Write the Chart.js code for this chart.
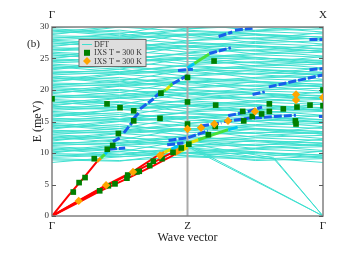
<!DOCTYPE html>
<html>
<head>
<meta charset="utf-8">
<script src="https://cdn.jsdelivr.net/npm/chart.js@4.4.1/dist/chart.umd.min.js"></script>
<style>html,body{margin:0;padding:0;background:#fff}canvas{display:block}</style>
</head>
<body>
<canvas id="c" width="363" height="256"></canvas>
<script>
const pathTicks = [0, 1, 2];
const pathLabels = ['Γ', 'Z', 'Γ'];
const topTicks = [0, 2];
const topLabels = ['Γ', 'X'];

// DFT bands, sampled at Γ, half way, Z, half way, Γ
const dftX = [0, 0.5, 1, 1.5, 2];
const dftBands = [
    [8.5, 9.4, 10.1, 9.3, 8.5], [8.9, 8.7, 10.1, 9.9, 9.2], [9.3, 9.7, 10.0, 8.8, 9.1],
    [9.7, 9.4, 9.9, 10.6, 10.2], [10.0, 11.2, 10.5, 10.1, 9.6], [10.4, 11.3, 12.0, 11.2, 10.4],
    [10.8, 10.2, 12.0, 11.8, 11.1], [11.2, 11.6, 11.9, 10.7, 11.0], [11.5, 11.2, 11.7, 12.4, 12.0],
    [11.9, 13.1, 12.4, 12.0, 11.5], [12.3, 13.2, 13.9, 13.1, 12.3], [12.7, 12.1, 13.9, 13.7, 13.0],
    [13.0, 13.4, 13.7, 12.5, 12.8], [13.4, 13.1, 13.6, 14.3, 13.9], [13.8, 15.0, 14.3, 13.9, 13.4],
    [14.2, 15.1, 15.8, 15.0, 14.2], [14.5, 13.9, 15.7, 15.5, 14.8], [14.9, 15.3, 15.6, 14.4, 14.7],
    [15.3, 15.0, 15.5, 16.2, 15.8], [15.7, 16.9, 16.2, 15.8, 15.3], [16.0, 16.9, 17.6, 16.8, 16.0],
    [16.4, 15.8, 17.6, 17.4, 16.7], [16.8, 17.2, 17.5, 16.3, 16.6], [17.2, 16.9, 17.4, 18.1, 17.7],
    [17.5, 18.7, 18.0, 17.6, 17.1], [17.9, 18.8, 19.5, 18.7, 17.9], [18.3, 17.7, 19.5, 19.3, 18.6],
    [18.7, 19.1, 19.4, 18.2, 18.5], [19.0, 18.7, 19.2, 19.9, 19.5], [19.4, 20.6, 19.9, 19.5, 19.0],
    [19.8, 20.7, 21.4, 20.6, 19.8], [20.2, 19.6, 21.4, 21.2, 20.5], [20.5, 20.9, 21.2, 20.0, 20.3],
    [20.9, 20.6, 21.1, 21.8, 21.4], [21.3, 22.5, 21.8, 21.4, 20.9], [21.7, 22.6, 23.3, 22.5, 21.7],
    [22.0, 21.4, 23.2, 23.0, 22.3], [22.4, 22.8, 23.1, 21.9, 22.2], [22.8, 22.5, 23.0, 23.7, 23.3],
    [23.2, 24.4, 23.7, 23.3, 22.8], [23.5, 24.4, 25.1, 24.3, 23.5], [23.9, 23.3, 25.1, 24.9, 24.2],
    [24.3, 24.7, 25.0, 23.8, 24.1], [24.7, 24.4, 24.9, 25.6, 25.2], [25.0, 26.2, 25.5, 25.1, 24.6],
    [25.4, 26.3, 27.0, 26.2, 25.4], [25.8, 25.2, 27.0, 26.8, 26.1], [26.2, 26.6, 26.9, 25.7, 26.0],
    [26.5, 26.2, 26.7, 27.4, 27.0], [26.9, 28.1, 27.4, 27.0, 26.5], [27.3, 28.2, 28.9, 28.1, 27.3],
    [27.7, 27.1, 28.9, 28.7, 28.0], [28.0, 28.4, 28.7, 27.5, 27.8], [28.4, 28.1, 28.6, 29.3, 28.9],
    [28.8, 30.0, 29.3, 28.9, 28.4], [29.2, 30.1, 30.8, 30.0, 29.2], [29.5, 28.9, 30.7, 30.5, 29.8],
    [29.9, 30.3, 30.6, 29.4, 29.7], [30.3, 30.0, 30.5, 31.2, 30.8],
    [9.1, 8.8, 9.4, 9.0, 9.5], [9.5, 10.2, 9.6, 10.1, 9.7], [9.9, 9.7, 10.8, 10.2, 9.3],
    [10.2, 10.7, 9.5, 9.3, 10.3], [10.6, 9.8, 10.9, 11.4, 11.2], [11.0, 10.5, 10.1, 10.8, 11.4],
    [11.4, 12.1, 11.0, 12.0, 11.6], [11.7, 11.5, 12.6, 12.0, 11.1], [12.1, 12.6, 11.4, 11.2, 12.2],
    [12.5, 11.7, 12.8, 13.3, 13.1], [12.9, 12.4, 12.0, 12.7, 13.3], [13.2, 13.9, 12.8, 13.8, 13.4],
    [13.6, 13.4, 14.5, 13.9, 13.0], [14.0, 14.5, 13.3, 13.1, 14.1], [14.4, 13.6, 14.7, 15.2, 15.0],
    [14.7, 14.2, 13.8, 14.5, 15.1], [15.1, 15.8, 14.7, 15.7, 15.3], [15.5, 15.3, 16.4, 15.8, 14.9],
    [15.9, 16.4, 15.2, 15.0, 16.0], [16.2, 15.4, 16.5, 17.0, 16.8], [16.6, 16.1, 15.7, 16.4, 17.0],
    [17.0, 17.7, 16.6, 17.6, 17.2], [17.4, 17.2, 18.3, 17.7, 16.8], [17.7, 18.2, 17.0, 16.8, 17.8],
    [18.1, 17.3, 18.4, 18.9, 18.7], [18.5, 18.0, 17.6, 18.3, 18.9], [18.9, 19.6, 18.5, 19.5, 19.1],
    [19.2, 19.0, 20.1, 19.5, 18.6], [19.6, 20.1, 18.9, 18.7, 19.7], [20.0, 19.2, 20.3, 20.8, 20.6],
    [20.4, 19.9, 19.5, 20.2, 20.8], [20.7, 21.4, 20.3, 21.3, 20.9], [21.1, 20.9, 22.0, 21.4, 20.5],
    [21.5, 22.0, 20.8, 20.6, 21.6], [21.9, 21.1, 22.2, 22.7, 22.5], [22.2, 21.7, 21.3, 22.0, 22.6],
    [22.6, 23.3, 22.2, 23.2, 22.8], [23.0, 22.8, 23.9, 23.3, 22.4], [23.4, 23.9, 22.7, 22.5, 23.5],
    [23.7, 22.9, 24.0, 24.5, 24.3], [24.1, 23.6, 23.2, 23.9, 24.5], [24.5, 25.2, 24.1, 25.1, 24.7],
    [24.9, 24.7, 25.8, 25.2, 24.3], [25.2, 25.7, 24.5, 24.3, 25.3], [25.6, 24.8, 25.9, 26.4, 26.2],
    [26.0, 25.5, 25.1, 25.8, 26.4], [26.4, 27.1, 26.0, 27.0, 26.6], [26.7, 26.5, 27.6, 27.0, 26.1],
    [27.1, 27.6, 26.4, 26.2, 27.2], [27.5, 26.7, 27.8, 28.3, 28.1], [27.9, 27.4, 27.0, 27.7, 28.3],
    [28.2, 28.9, 27.8, 28.8, 28.4], [28.6, 28.4, 29.5, 28.9, 28.0], [29.0, 29.5, 28.3, 28.1, 29.1],
    [29.4, 28.6, 29.7, 30.2, 30.0], [29.7, 29.2, 28.8, 29.5, 30.1], [30.1, 30.8, 29.7, 30.7, 30.3]
];
// acoustic DFT branches fanning from Z down to Γ
const fanX = [1, 1.64, 2];
const fanBands = [[11.3, 4.1, 0], [11.0, 4.0, 0], [10.8, 9.0, 0], [11.5, 9.2, 0]];

const ixsGreenX = [0, 0.157, 0.2, 0.244, 0.312, 0.352, 0.406, 0.408, 0.448, 0.416, 0.465, 0.502,
    0.49, 0.553, 0.559, 0.603, 0.603, 0.627, 0.644, 0.721, 0.748, 0.797, 0.804, 0.812, 0.893,
    0.954, 1.0, 1.0, 1.0, 1.01, 1.196, 1.208, 1.205, 1.154, 1.407, 1.415, 1.478, 1.547, 1.604,
    1.604, 1.707, 1.796, 1.801, 1.808, 1.904, 2.0, 2.0];
const ixsGreenY = [18.6, 3.8, 5.3, 6.1, 9.1, 4.0, 17.8, 10.6, 11.2, 4.8, 5.1, 17.2,
    13.1, 6.0, 6.5, 16.7, 15.1, 7.0, 7.1, 8.0, 8.7, 15.5, 19.5, 9.1, 10.1,
    10.8, 22.0, 18.1, 14.6, 11.4, 24.6, 17.6, 14.2, 12.9, 16.6, 15.1, 15.8, 16.2, 17.8,
    16.6, 17.0, 15.1, 14.6, 17.3, 17.6, 20.0, 17.5];
const ixsOrangeX = [0.197, 0.399, 0.598, 0.797, 1.0, 1.1, 1.198, 1.299, 1.498, 1.801, 1.801, 2.0];
const ixsOrangeY = [2.4, 4.9, 7.0, 9.6, 13.8, 14.0, 14.6, 15.1, 16.6, 19.3, 18.4, 18.8];

// spectral intensity branches, grouped by intensity level, as [q, E] polylines
const redLines = [
    [[0, 0], [0.12, 3.2], [0.24, 6.2], [0.33, 8.6]],
    [[0, 0], [0.2, 2.5], [0.4, 4.9], [0.6, 7.1], [0.78, 9.6]],
    [[0, 0], [0.2, 2.4], [0.35, 4.2], [0.55, 6.4], [0.75, 8.5], [0.9, 10.2]],
    [[0, 0], [0.2, 2.2], [0.35, 3.9], [0.55, 5.9], [0.75, 8.0], [0.9, 9.7]]
];
const orangeLines = [
    [[0.33, 8.6], [0.36, 9.2]], [[0.78, 9.6], [0.83, 10.1]],
    [[0.9, 10.2], [0.95, 10.8]], [[0.9, 9.7], [0.95, 10.3]]
];
const yellowLines = [
    [[0.83, 10.1], [0.88, 10.6]], [[0.95, 10.8], [1.0, 11.3]], [[0.95, 10.3], [1.0, 10.9]],
    [[1.0, 11.5], [1.08, 12.1]], [[0.84, 20.0], [0.87, 20.6]]
];
const greenLines = [
    [[0.36, 9.2], [0.39, 9.8]], [[0.8, 19.6], [0.84, 20.0]], [[0.87, 20.6], [0.89, 21.0]],
    [[1.05, 24.2], [1.16, 25.7]], [[1.08, 12.1], [1.2, 13.0], [1.3, 13.7]]
];
const cyanLines = [
    [[0.39, 9.8], [0.42, 10.5]], [[0.88, 10.6], [0.93, 11.1]],
    [[1.3, 13.7], [1.37, 14.1]], [[1.0, 23.5], [1.05, 24.2]]
];
const blueLines = [
    [[0.42, 10.6], [0.54, 10.8]], [[0.45, 11.8], [0.5, 12.4]], [[0.53, 13.2], [0.59, 14.8]],
    [[0.6, 15.4], [0.64, 16.4]], [[0.65, 17.0], [0.75, 18.6]], [[0.76, 18.9], [0.8, 19.6]],
    [[0.89, 21.0], [1.0, 22.3]], [[0.93, 23.1], [1.04, 23.3]], [[1.16, 25.8], [1.32, 26.7]],
    [[1.23, 28.5], [1.33, 29.2]], [[1.35, 29.5], [1.48, 29.8]],
    [[0.86, 12.0], [1.0, 12.4], [1.15, 13.5]], [[0.85, 11.3], [0.97, 11.6]],
    [[1.1, 14.3], [1.25, 14.8]], [[1.27, 15.0], [1.45, 15.5], [1.65, 15.8], [1.8, 16.0]],
    [[1.3, 15.9], [1.45, 16.6], [1.55, 17.3]], [[1.48, 19.3], [1.57, 19.7]],
    [[1.6, 20.5], [2.0, 22.4]], [[1.9, 23.2], [2.0, 23.4]], [[1.9, 28.0], [2.0, 28.0]],
    [[1.97, 15.8], [2.0, 15.8]]
];

const dftColor = 'rgb(64,224,208)';
const blueColor = 'rgb(25,95,235)';
const redColor = 'rgb(255,0,0)';
const intensity = [
    [blueLines, blueColor],
    [cyanLines, 'rgb(0,200,245)'],
    [greenLines, 'rgb(70,225,60)'],
    [yellowLines, 'rgb(225,225,0)'],
    [orangeLines, 'rgb(255,150,0)'],
    [redLines, redColor]
];
const serif = "'Liberation Serif', 'DejaVu Serif', serif";

const datasets = [];
datasets.push({
    label: 'IXS T = 300 K', legendMarker: 'diamond', order: 0,
    data: ixsOrangeX.map((x, i) => ({x, y: ixsOrangeY[i]})),
    showLine: false, pointStyle: 'rectRot', pointRadius: 4.2,
    backgroundColor: 'rgb(255,165,0)', borderColor: 'rgb(255,165,0)', borderWidth: 0
});
datasets.push({
    label: 'IXS T = 300 K', legendMarker: 'square', frameBefore: true, order: 1,
    data: ixsGreenX.map((x, i) => ({x, y: ixsGreenY[i]})),
    showLine: false, pointStyle: 'rect', pointRadius: 4,
    backgroundColor: 'rgb(0,128,0)', borderColor: 'rgb(0,128,0)', borderWidth: 0
});
intensity.forEach(([lines, color]) => {
    lines.forEach(line => datasets.push({
        order: 2, data: line.map(p => ({x: p[0], y: p[1]})),
        borderColor: color, borderWidth: color === redColor ? 2 : 3,
        borderDash: color === blueColor ? [8, 2] : [],
        pointRadius: 0, borderCapStyle: 'butt'
    }));
});
datasets.push({
    order: 3, data: [{x: 1, y: 0}, {x: 1, y: 30}],
    borderColor: 'rgb(170,170,170)', borderWidth: 2, pointRadius: 0
});
dftBands.forEach((band, i) => datasets.push({
    label: i === 0 ? 'DFT' : undefined, legendMarker: i === 0 ? 'line' : undefined, order: 4,
    data: dftX.map((x, j) => ({x, y: band[j]})),
    borderColor: dftColor, borderWidth: 1, pointRadius: 0
}));
fanBands.forEach(band => datasets.push({
    order: 4, data: fanX.map((x, j) => ({x, y: band[j]})),
    borderColor: dftColor, borderWidth: 1, pointRadius: 0
}));
datasets.forEach(d => { d.clip = 0; d.tension = 0; });

function drawFrame(chart) {
    const {ctx, chartArea: a, scales} = chart;
    ctx.save();
    ctx.strokeStyle = 'rgb(128,128,128)';
    ctx.lineWidth = 1.5;
    ctx.strokeRect(a.left, a.top, a.right - a.left, a.bottom - a.top);
    ctx.lineWidth = 1;
    ctx.strokeStyle = 'rgb(90,90,90)';
    scales.y.ticks.forEach(t => {
        const py = Math.round(scales.y.getPixelForValue(t.value)) + 0.5;
        ctx.beginPath();
        ctx.moveTo(a.left, py); ctx.lineTo(a.left + 4, py);
        ctx.moveTo(a.right, py); ctx.lineTo(a.right - 4, py);
        ctx.stroke();
    });
    ctx.restore();
}

const framePlugin = {
    id: 'frameAndLegend',
    beforeDatasetDraw(chart, args) {
        if (chart.data.datasets[args.index].frameBefore) drawFrame(chart);
    },
    afterDraw(chart) {
        const ctx = chart.ctx;
        ctx.save();
        ctx.font = '11px ' + serif;
        ctx.fillStyle = '#222';
        ctx.textBaseline = 'middle';
        ctx.textAlign = 'left';
        ctx.fillText('(b)', 27, 44);

        const box = {x: 79, y: 39.5, w: 67, h: 27};
        ctx.fillStyle = 'rgb(222,222,222)';
        ctx.fillRect(box.x, box.y, box.w, box.h);
        ctx.strokeStyle = 'rgb(110,110,110)';
        ctx.lineWidth = 1;
        ctx.strokeRect(box.x, box.y, box.w, box.h);
        const items = chart.data.datasets.filter(d => d.legendMarker);
        const rank = {line: 0, square: 1, diamond: 2};
        items.sort((a, b) => rank[a.legendMarker] - rank[b.legendMarker]);
        ctx.font = '8px ' + serif;
        items.forEach((d, i) => {
            const cy = box.y + 5 + i * 8.3;
            const cx = box.x + 8;
            if (d.legendMarker === 'line') {
                ctx.strokeStyle = d.borderColor;
                ctx.lineWidth = 1;
                ctx.beginPath(); ctx.moveTo(box.x + 3, cy); ctx.lineTo(box.x + 13, cy); ctx.stroke();
            } else if (d.legendMarker === 'square') {
                ctx.fillStyle = d.backgroundColor;
                ctx.fillRect(cx - 3, cy - 3, 6, 6);
            } else {
                ctx.fillStyle = d.backgroundColor;
                ctx.beginPath();
                ctx.moveTo(cx, cy - 4); ctx.lineTo(cx + 4, cy); ctx.lineTo(cx, cy + 4); ctx.lineTo(cx - 4, cy);
                ctx.closePath(); ctx.fill();
            }
            ctx.fillStyle = '#333';
            ctx.fillText(d.label, box.x + 15, cy + 0.5);
        });
        ctx.restore();
    }
};

new Chart(document.getElementById('c'), {
    type: 'line',
    data: {datasets},
    plugins: [framePlugin],
    options: {
        responsive: false,
        animation: false,
        layout: {padding: {left: 0, right: 40, top: 0, bottom: 0}},
        plugins: {legend: {display: false}, tooltip: {enabled: false}},
        scales: {
            x: {
                type: 'linear', position: 'bottom', min: 0, max: 2,
                afterBuildTicks: s => { s.ticks = pathTicks.map(v => ({value: v})); },
                afterFit: s => { s.height = 40; },
                grid: {display: false, drawTicks: false}, border: {display: false},
                ticks: {
                    padding: 4, color: '#222', font: {family: serif, size: 11},
                    maxRotation: 0, autoSkip: false,
                    callback: v => pathLabels[pathTicks.indexOf(v)]
                },
                title: {display: true, text: 'Wave vector', color: '#222',
                    font: {family: serif, size: 12}, padding: {top: 0, bottom: 11}}
            },
            x2: {
                type: 'linear', position: 'top', min: 0, max: 2,
                afterBuildTicks: s => { s.ticks = topTicks.map(v => ({value: v})); },
                afterFit: s => { s.height = 27; },
                grid: {display: false, drawTicks: false}, border: {display: false},
                ticks: {
                    padding: 5, color: '#222', font: {family: serif, size: 11},
                    maxRotation: 0, autoSkip: false,
                    callback: v => topLabels[topTicks.indexOf(v)]
                }
            },
            y: {
                type: 'linear', min: 0, max: 30,
                afterFit: s => { s.width = 52; },
                grid: {display: false, drawTicks: false}, border: {display: false},
                ticks: {stepSize: 5, padding: 3, color: '#333', font: {family: serif, size: 9}},
                title: {display: true, text: 'E (meV)', color: '#222',
                    font: {family: serif, size: 12}, padding: {top: 31, bottom: 0}}
            }
        }
    }
});
</script>
</body>
</html>
